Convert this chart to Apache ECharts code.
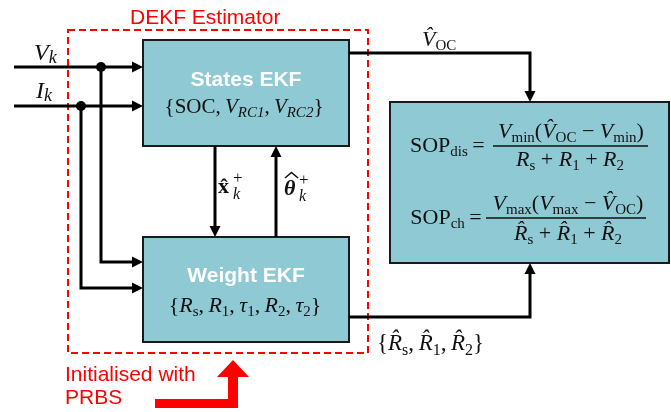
<!DOCTYPE html>
<html><head><meta charset="utf-8">
<script src="https://cdn.jsdelivr.net/npm/echarts@6/dist/echarts.min.js"></script>
<style>html,body{margin:0;padding:0;background:#fff}#c{width:671px;height:412px}</style>
</head><body><div id="c"></div>
<script>
// ---------- content (text) ----------
const titleText = 'DEKF Estimator';
const noteLines = ['Initialised with', 'PRBS'];
const blockNames = ['States EKF', 'Weight EKF'];
const inputV = [['V','i'],['k','si']];
const inputI = [['I','i'],['k','si']];
const statesVars = [['{','raw'],['SOC','n'],[',\u2009','n'],['V','i'],['RC1','si'],[',\u2009','n'],['V','i'],['RC2','si'],['}','raw']];
const weightVars = [['{','raw'],['R','i'],['s','s'],[',\u2009','n'],['R','i'],['1','s'],[',\u2009','n'],['τ','i'],['1','s'],[',\u2009','n'],['R','i'],['2','s'],[',\u2009','n'],['τ','i'],['2','s'],['}','raw']];
const vocLabel = [['V\u0302','i'],['OC','s']];
const paramsOut = [['{','raw'],['R\u0302','i'],['s','s'],[',\u2009','n'],['R\u0302','i'],['1','s'],[',\u2009','n'],['R\u0302','i'],['2','s'],['}','raw']];
const sopDisLhs = [['SOP','n'],['dis','s'],['\u2009=\u2009','n']];
const sopDisNum = [['V','i'],['min','s'],['(','n'],['V\u0302','i'],['OC','s'],[' \u2212 ','n'],['V','i'],['min','s'],[')','n']];
const sopDisDen = [['R','i'],['s','s'],[' + ','n'],['R','i'],['1','s'],[' + ','n'],['R','i'],['2','s']];
const sopChLhs = [['SOP','n'],['ch','s'],['\u2009=\u2009','n']];
const sopChNum = [['V','i'],['max','s'],['(','n'],['V','i'],['max','s'],[' \u2212 ','n'],['V\u0302','i'],['OC','s'],[')','n']];
const sopChDen = [['R\u0302','i'],['s','s'],[' + ','n'],['R\u0302','i'],['1','s'],[' + ','n'],['R\u0302','i'],['2','s']];
const stateFeedback = ['x\u0302', 'k', '+'];
const paramFeedback = ['θ', 'k', '+'];

// ---------- layout (diagram units on hidden axes) ----------
const layout = {
  dashed: [68, 30, 368, 353],
  boxes: [[143,40,349,146],[143,237,349,342],[390,102,669,263]],
  wires: [
    [[14,67],[143,67]],
    [[14,106],[143,106]],
    [[101,67],[101,262],[143,262]],
    [[81,106],[81,288],[143,288]],
    [[215,146],[215,237]],
    [[276,237],[276,146]],
    [[349,53],[530,53],[530,102]],
    [[349,317],[530,317],[530,263]]
  ],
  dots: [[101,67],[81,106]],
  fracLines: [[493,648,146],[486,646,218]],
  thetaHat: [[285,178],[291.5,172.5],[298,178]],
  redArrow: [[155,399],[228,399],[228,377],[217,377],[233,360],[249,377],[238,377],[238,408],[155,408]]
};

const MF = '"Liberation Serif","DejaVu Serif",serif';
const SF = '"Liberation Sans",Arial,sans-serif';
const INK = '#111';
const BOXFILL = '#8fcad4';

function richStyles(fs, subScale, drop){
  const sub = Math.round(fs*(subScale||0.7));
  const lh = sub + 2*(drop||6.5);
  const mlh = Math.max(lh, fs);
  return {
    n:{fontFamily:MF,fontSize:fs,lineHeight:mlh,fill:INK},
    i:{fontFamily:MF,fontSize:fs,fontStyle:'italic',lineHeight:mlh,fill:INK},
    s:{fontFamily:MF,fontSize:sub,lineHeight:sub,verticalAlign:'bottom',fill:INK},
    si:{fontFamily:MF,fontSize:sub,fontStyle:'italic',lineHeight:sub,verticalAlign:'bottom',fill:INK}
  };
}
function toRich(tokens){ return tokens.map(([t,s]) => s==='raw' ? t : '{'+s+'|'+t+'}').join(''); }

function renderAll(params, api){
  const P = (x,y) => api.coord([x,y]);
  const ch = [];
  const d0 = P(layout.dashed[0], layout.dashed[1]), d1 = P(layout.dashed[2], layout.dashed[3]);
  ch.push({type:'rect', shape:{x:d0[0],y:d0[1],width:d1[0]-d0[0],height:d1[1]-d0[1]},
    style:{fill:null, stroke:'#ff0000', lineWidth:2, lineDash:[7,4]}});
  layout.boxes.forEach(b => {
    const a = P(b[0],b[1]), c = P(b[2],b[3]);
    ch.push({type:'rect', shape:{x:a[0],y:a[1],width:c[0]-a[0],height:c[1]-a[1]},
      style:{fill:BOXFILL, stroke:'#1a1a1a', lineWidth:2}});
  });
  layout.wires.forEach(w => {
    const pts = w.map(p => P(p[0],p[1]));
    const n = pts.length, e = pts[n-1], s = pts[n-2];
    const dx = e[0]-s[0], dy = e[1]-s[1], len = Math.hypot(dx,dy);
    const ux = dx/len, uy = dy/len, AL = 11, AW = 5.5;
    const base = [e[0]-ux*AL, e[1]-uy*AL];
    const linePts = pts.slice(0, n-1).concat([[e[0]-ux*(AL-1), e[1]-uy*(AL-1)]]);
    ch.push({type:'polyline', shape:{points:linePts}, style:{stroke:'#000', lineWidth:3, fill:null}});
    ch.push({type:'polygon', shape:{points:[e,[base[0]-uy*AW, base[1]+ux*AW],[base[0]+uy*AW, base[1]-ux*AW]]}, style:{fill:'#000'}});
  });
  layout.dots.forEach(d => { const p = P(d[0],d[1]); ch.push({type:'circle', shape:{cx:p[0],cy:p[1],r:5}, style:{fill:'#000'}}); });
  layout.fracLines.forEach(f => { const a = P(f[0],f[2]), b = P(f[1],f[2]);
    ch.push({type:'line', shape:{x1:a[0],y1:a[1],x2:b[0],y2:b[1]}, style:{stroke:'#111', lineWidth:1.6}}); });
  ch.push({type:'polyline', shape:{points: layout.thetaHat.map(p => P(p[0],p[1]))}, style:{stroke:INK, lineWidth:1.6, fill:null}});
  ch.push({type:'polygon', shape:{points: layout.redArrow.map(p => P(p[0],p[1]))}, style:{fill:'#ff0000'}});

  const plain = (text, x, y, font, fill, align) => { const p = P(x,y);
    return {type:'text', style:{text, x:p[0], y:p[1], font, fill, align:align||'left', verticalAlign:'middle'}}; };
  const math = (tokens, x, y, fs, align, subScale, drop) => { const p = P(x,y);
    const rich = richStyles(fs, subScale, drop);
    return {type:'text', style:{text:toRich(tokens), x:p[0], y:p[1], align:align||'center', verticalAlign:'middle',
      rich, fontFamily:MF, fontSize:fs, lineHeight:rich.n.lineHeight, fill:INK}}; };

  ch.push(plain(titleText, 130, 18, '21px '+SF, '#ff0000'));
  ch.push(plain(noteLines[0], 65, 375, '21px '+SF, '#ff0000'));
  ch.push(plain(noteLines[1], 65, 398, '21px '+SF, '#ff0000'));
  ch.push(plain(blockNames[0], 246, 80, 'bold 21px '+SF, '#ffffff', 'center'));
  ch.push(plain(blockNames[1], 246, 276, 'bold 21px '+SF, '#ffffff', 'center'));
  ch.push(math(inputV, 34, 54, 24, 'left', 0.75, 4));
  ch.push(math(inputI, 36, 92, 24, 'left', 0.75, 4));
  ch.push(math(statesVars, 244, 107, 21));
  ch.push(math(weightVars, 245, 306, 22));
  ch.push(math(vocLabel, 422, 40, 22, 'left'));
  ch.push(math(paramsOut, 377, 344, 23, 'left'));
  ch.push(math(sopDisLhs, 489, 146, 22, 'right'));
  ch.push(math(sopDisNum, 571, 132, 22));
  ch.push(math(sopDisDen, 570, 160, 22));
  ch.push(math(sopChLhs, 486, 218, 22, 'right'));
  ch.push(math(sopChNum, 568, 204, 22));
  ch.push(math(sopChDen, 568, 234, 22));
  [[stateFeedback, 218, 187, 'bold 22px '+MF, 15], [paramFeedback, 284, 189, 'bold italic 22px '+MF, 15]].forEach(([t,x,y,f,w]) => {
    ch.push(plain(t[0], x, y, f, INK));
    ch.push(plain(t[1], x+w, y+8, 'italic 16px '+MF, INK));
    ch.push(plain(t[2], x+w, y-8, '17px '+MF, INK));
  });
  return {type:'group', children: ch};
}

const chart = echarts.init(document.getElementById('c'), null, {renderer:'canvas'});
chart.setOption({
  animation:false,
  backgroundColor:'#ffffff',
  grid:{left:0,right:0,top:0,bottom:0},
  xAxis:{type:'value', min:0, max:671, show:false},
  yAxis:{type:'value', min:0, max:412, inverse:true, show:false},
  series:[{type:'custom', coordinateSystem:'cartesian2d', data:[[0,0]], renderItem:renderAll, silent:true}]
});
</script></body></html>
